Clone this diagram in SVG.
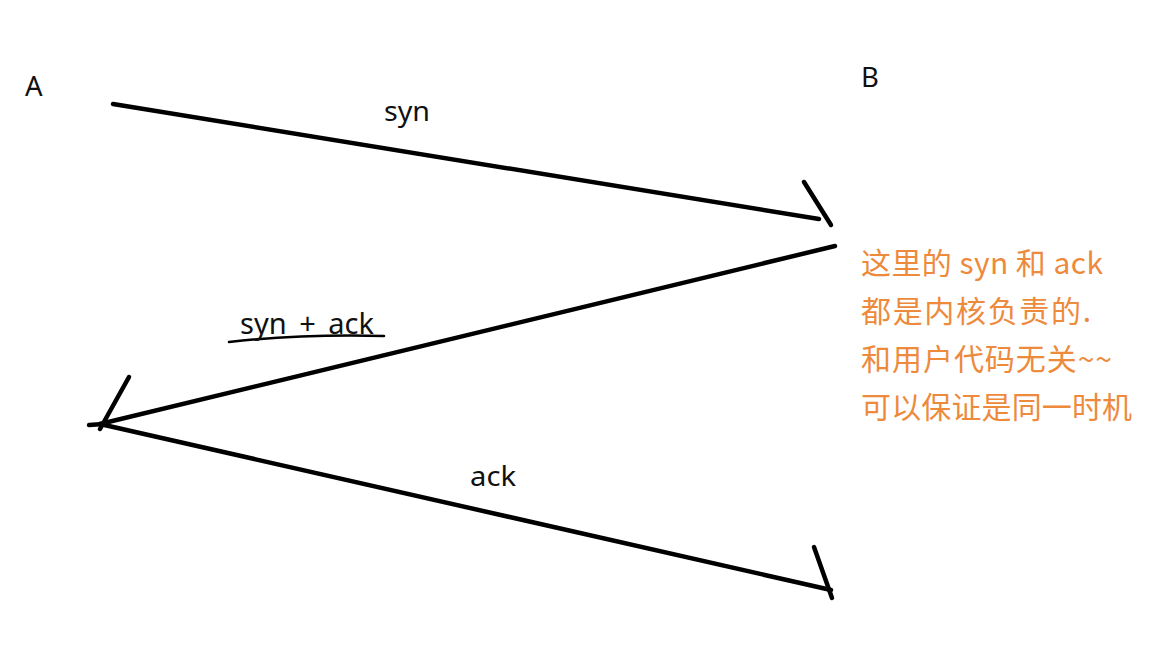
<svg xmlns="http://www.w3.org/2000/svg" width="1162" height="670" viewBox="0 0 1162 670">
<style>
.ln{stroke:#000;stroke-width:4.5;stroke-linecap:round;fill:none}
.lb{font-family:"Noto Sans","Open Sans",sans-serif;font-size:27.5px;fill:#111}
.note{font-family:"Noto Sans CJK SC","Noto Sans",sans-serif;font-size:30px;fill:#ED8A3C}
</style>
<rect width="1162" height="670" fill="#fff"/>
<g id="A"><text class="lb" x="25" y="96">A</text></g>
<g id="B"><text class="lb" x="861" y="87">B</text></g>
<g id="connectors">
<path class="ln" d="M113,104 L819,219"/>
<path class="ln" d="M804,182 L831,225"/>
<path class="ln" d="M835,246 L100,424"/>
<path class="ln" d="M129,377 L100,429"/>
<path class="ln" d="M89,425 L104,424"/>
<path class="ln" d="M100,424 L831,590"/>
<path class="ln" d="M814,547 L832,598"/>
<path class="ln" style="stroke-width:2.5" d="M229,342 Q300,334 384,336"/>
</g>
<g id="labels">
<text class="lb" x="384" y="121" textLength="46" lengthAdjust="spacingAndGlyphs">syn</text>
<text class="lb" x="240" y="334" style="font-size:29px" word-spacing="5">syn + ack</text>
<text class="lb" x="470" y="486" textLength="46" lengthAdjust="spacingAndGlyphs">ack</text>
</g>
<g id="note">
<text class="note" x="861" y="274" textLength="242" lengthAdjust="spacing">这里的 syn 和 ack</text>
<text class="note" x="861" y="322" textLength="230" lengthAdjust="spacing">都是内核负责的.</text>
<text class="note" x="861" y="370" textLength="251" lengthAdjust="spacing">和用户代码无关~~</text>
<text class="note" x="861" y="418" textLength="271" lengthAdjust="spacing">可以保证是同一时机</text>
</g>
</svg>
